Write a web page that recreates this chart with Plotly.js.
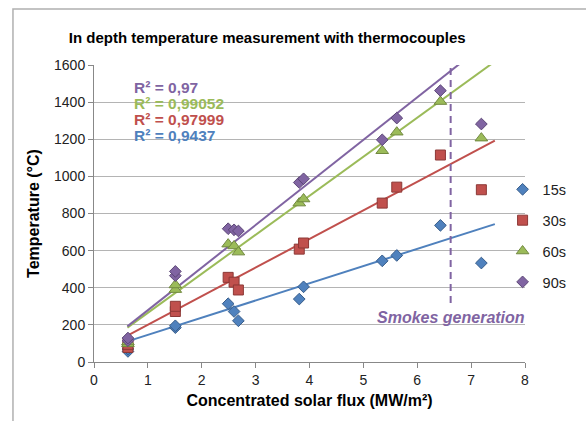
<!DOCTYPE html>
<html>
<head>
<meta charset="utf-8">
<script src="https://cdn.plot.ly/plotly-3.0.1.min.js"></script>
<style>
html,body{margin:0;padding:0;background:#fff;}
#chart{width:586px;height:421px;}
</style>
</head>
<body>
<div id="chart"></div>
<script>
// ---- data ----
var flux = [0.63, 0.63, 1.51, 1.51, 2.49, 2.60, 2.68, 3.81, 3.89, 5.35, 5.62, 6.43, 7.19];
var t15 = [57, 70, 185, 195, 314, 272, 222, 339, 405, 545, 574, 736, 533];
var t30 = [78, 95, 272, 300, 456, 430, 388, 608, 641, 856, 942, 1115, 928];
var t60 = [98, 108, 390, 415, 635, 625, 592, 856, 878, 1138, 1238, 1403, 1206];
var t90 = [115, 129, 465, 488, 718, 712, 706, 967, 987, 1197, 1314, 1462, 1282];
var seriesNames = ["15s", "30s", "60s", "90s"];
// linear trendlines (value at start / end of trendline range)
var trendX = [0.62, 7.44];
var trend15 = [111, 743];
var trend30 = [142, 1193];
var trend60 = [185, 1619];
var trend90 = [192, 1756];
var r2Labels = ["R² = 0,97", "R² = 0,99052", "R² = 0,97999", "R² = 0,9437"];
var smokeX = 6.62;
var smokeRange = [318, 1600];
var smokeLabel = "Smokes generation";
var xTickVals = [0, 1, 2, 3, 4, 5, 6, 7, 8];
var yTickVals = [0, 200, 400, 600, 800, 1000, 1200, 1400, 1600];

// ---- styles ----
var fill = ["#4F81BD", "#C0504D", "#9BBB59", "#8064A2"];
var edge = ["#385D8A", "#8C3836", "#71893F", "#5C4776"];
var symbols = ["diamond", "square", "triangle-up", "diamond"];
var sizes = [9, 10, 11, 9];
var temps = [t15, t30, t60, t90];
var trends = [trend15, trend30, trend60, trend90];

var traces = [];
for (var i = 0; i < 4; i++) {
  traces.push({
    x: trendX, y: trends[i], mode: "lines", type: "scatter",
    line: {color: fill[i], width: 2}, showlegend: false, hoverinfo: "skip"
  });
}
for (var i = 0; i < 4; i++) {
  traces.push({
    x: flux, y: temps[i], mode: "markers", type: "scatter", name: seriesNames[i],
    legendgroup: "g" + i,
    marker: {symbol: symbols[i], size: sizes[i], color: fill[i], line: {color: edge[i], width: 1}}
  });
}
traces.push({
  x: [smokeX, smokeX], y: smokeRange, mode: "lines", type: "scatter",
  line: {color: "#8064A2", width: 2, dash: "7px,5px"}, showlegend: false, hoverinfo: "skip"
});

var font = "'Liberation Sans', Arial, sans-serif";
var r2Colors = ["#8064A2", "#9BBB59", "#C0504D", "#4F81BD"];
var annotations = [];
var r2Y = [1478, 1392, 1306, 1220];
for (var k = 0; k < 4; k++) {
  annotations.push({
    x: 0.72, y: r2Y[k], xref: "x", yref: "y", text: "<b>" + r2Labels[k] + "</b>",
    showarrow: false, xanchor: "left", yanchor: "middle", borderpad: 0,
    font: {family: font, size: 15.5, color: r2Colors[k]}
  });
}
annotations.push({
  x: smokeX, y: 240, xref: "x", yref: "y", text: "<b><i>" + smokeLabel + "</i></b>",
  showarrow: false, xanchor: "center", yanchor: "middle",
  font: {family: font, size: 16, color: "#8064A2"}
});

var layout = {
  width: 586, height: 421,
  margin: {l: 94, r: 61, t: 65, b: 59},
  paper_bgcolor: "#fff", plot_bgcolor: "#fff",
  font: {family: font, size: 14, color: "#222"},
  title: {
    text: "<b>In depth temperature measurement with thermocouples</b>",
    font: {family: font, size: 15, color: "#000"},
    x: 0.456, xref: "container", xanchor: "center", y: 0.91, yref: "container", yanchor: "middle"
  },
  xaxis: {
    range: [0, 8], tickvals: xTickVals, ticks: "outside", ticklen: 5, tickcolor: "#888",
    showline: true, linecolor: "#888", linewidth: 1, showgrid: false, zeroline: false,
    tickfont: {family: font, size: 14, color: "#222"}, automargin: false,
    title: {text: "<b>Concentrated solar flux (MW/m²)</b>", font: {family: font, size: 16, color: "#000"}, standoff: 8}
  },
  yaxis: {
    range: [0, 1600], tickvals: yTickVals, ticks: "outside", ticklen: 5, tickcolor: "#888",
    showline: true, linecolor: "#888", linewidth: 1, showgrid: true, gridcolor: "#b4b4b4", gridwidth: 1,
    zeroline: false, tickfont: {family: font, size: 14, color: "#222"}, automargin: false,
    title: {text: "<b>Temperature (°C)</b>", font: {family: font, size: 16, color: "#000"}, standoff: 10}
  },
  legend: {
    xref: "paper", yref: "paper",
    x: 0.948, y: 0.635, xanchor: "left", yanchor: "top",
    font: {family: font, size: 14.5, color: "#222"},
    traceorder: "grouped", tracegroupgap: 9, itemwidth: 30,
    bgcolor: "rgba(0,0,0,0)"
  },
  annotations: annotations,
  shapes: [{
    type: "rect", xref: "paper", yref: "paper",
    x0: -0.188, x1: 1.3, y0: -0.4, y1: 1.1886,
    line: {color: "#b0b0b0", width: 1.5}, fillcolor: "rgba(0,0,0,0)", layer: "below"
  }],
  showlegend: true
};

Plotly.newPlot("chart", traces, layout, {displayModeBar: false, staticPlot: true});
</script>
</body>
</html>
